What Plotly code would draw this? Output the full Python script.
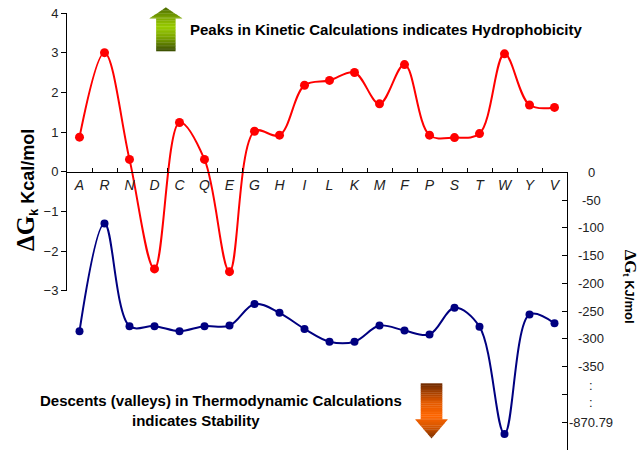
import plotly.graph_objects as go

# ---------------- data ----------------
categories = ["A", "R", "N", "D", "C", "Q", "E", "G", "H", "I",
              "L", "K", "M", "F", "P", "S", "T", "W", "Y", "V"]
# Kinetic calculations, Delta G_k (Kcal/mol), left axis
kinetic_values = [0.87, 3.00, 0.31, -2.45, 1.24, 0.31, -2.52, 1.02, 0.92, 2.18,
                  2.30, 2.50, 1.71, 2.70, 0.92, 0.86, 0.96, 2.97, 1.68, 1.62]
# Thermodynamic calculations, Delta G_t (KJ/mol), right (broken) axis.
# W is -870.79, drawn below the axis break (read at its broken-axis position).
thermo_values = [-286, -92, -277, -277, -286, -277, -276, -237, -253, -282,
                 -305, -305, -276, -285, -292, -244, -278, -471, -256, -272]

left_ticks = [-3, -2, -1, 0, 1, 2, 3, 4]
right_tickvals = [0, -50, -100, -150, -200, -250, -300, -350, -400, -450]
right_ticktext = ["0", "-50", "-100", "-150", "-200", "-250", "-300", "-350", ":<br>:", "-870.79"]

# ---------------- geometry helpers ----------------
W, H = 644, 450
L, T = 67, 13
R_EDGE = 566.7
PW = R_EDGE - L
PH = H - T


def px(x):
    return (x - L) / PW


def py(y):
    return 1 - (y - T) / PH


def hex2rgb(h):
    h = h.lstrip("#")
    return tuple(int(h[i:i + 2], 16) for i in (0, 2, 4))


def interp(stops, t):
    for (t0, c0), (t1, c1) in zip(stops, stops[1:]):
        if t0 <= t <= t1:
            a = 0 if t1 == t0 else (t - t0) / (t1 - t0)
            r0, g0, b0 = hex2rgb(c0)
            r1, g1, b1 = hex2rgb(c1)
            return "rgb(%d,%d,%d)" % (r0 + (r1 - r0) * a, g0 + (g1 - g0) * a, b0 + (b1 - b0) * a)
    return stops[-1][1]


def arrow_shapes(cx, y_top, y_bot, y_split, head_hw, shaft_hw, pointing_up, stops, n=30):
    shapes = []
    ys = sorted(set([y_top + (y_bot - y_top) * i / n for i in range(n + 1)] + [y_split]))

    def hw(y, in_head):
        if not in_head:
            return shaft_hw
        if pointing_up:
            return head_hw * (y - y_top) / (y_split - y_top)
        return head_hw * (y_bot - y) / (y_bot - y_split)

    for ya, yb in zip(ys, ys[1:]):
        mid = (ya + yb) / 2
        in_head = (mid < y_split) if pointing_up else (mid > y_split)
        wa, wb = hw(ya, in_head), hw(yb, in_head)
        col = interp(stops, (mid - y_top) / (y_bot - y_top))
        path = "M %f %f L %f %f L %f %f L %f %f Z" % (
            px(cx - wa), py(ya), px(cx + wa), py(ya),
            px(cx + wb), py(yb + 0.3), px(cx - wb), py(yb + 0.3))
        shapes.append(dict(type="path", xref="paper", yref="paper", path=path,
                           fillcolor=col, line=dict(width=0), layer="above"))
    return shapes


# ---------------- figure ----------------
fig = go.Figure()
fig.add_trace(go.Scatter(
    x=categories, y=kinetic_values, mode="lines+markers", xaxis="x", yaxis="y",
    line=dict(color="#FF0000", width=2, shape="spline", smoothing=1),
    marker=dict(color="#FF0000", size=9), showlegend=False))
fig.add_trace(go.Scatter(
    x=categories, y=thermo_values, mode="lines+markers", xaxis="x", yaxis="y2",
    line=dict(color="#000080", width=2, shape="spline", smoothing=1),
    marker=dict(color="#000080", size=8), showlegend=False))

font_fam = "Arial, Liberation Sans, sans-serif"

fig.update_layout(
    width=W, height=H,
    margin=dict(l=L, r=W - R_EDGE, t=T, b=0, pad=0),
    paper_bgcolor="white", plot_bgcolor="rgba(0,0,0,0)",
    font=dict(family=font_fam, color="#222222"),
    xaxis=dict(type="category", categoryorder="array", categoryarray=categories,
               range=[-0.5, len(categories) - 0.5], domain=[0, 1],
               anchor="free", position=py(171.7),
               showline=True, linecolor="#000000", linewidth=1,
               ticks="inside", tickson="boundaries", ticklen=4, tickcolor="#000000",
               tickfont=dict(size=14, style="italic", color="#222222"),
               showgrid=False, zeroline=False, automargin=False),
    yaxis=dict(domain=[py(290.7), 1], range=[-3, 4], tickvals=left_ticks,
               showline=True, linecolor="#000000", linewidth=1,
               ticks="outside", ticklen=5, tickcolor="#000000",
               tickfont=dict(size=13, color="#222222"),
               showgrid=False, zeroline=False, anchor="x", automargin=False),
    yaxis2=dict(domain=[0, py(172.3)], range=[-500, 0], side="right", anchor="x",
                tickvals=right_tickvals, showticklabels=False,
                showline=True, linecolor="#000000", linewidth=1,
                ticks="inside", ticklen=5, tickcolor="#000000",
                showgrid=False, zeroline=False, automargin=False),
)

annotations = []
# right axis tick labels (centered)
for v, t in zip(right_tickvals, right_ticktext):
    annotations.append(dict(x=px(591), xref="paper", y=v, yref="y2", text=t,
                            showarrow=False, xanchor="center", yanchor="middle",
                            font=dict(size=13, color="#222222")))

# axis titles
annotations.append(dict(
    x=px(27), y=py(190), xref="paper", yref="paper", textangle=-90, showarrow=False,
    xanchor="center", yanchor="middle",
    text='<b><span style="font-family:Liberation Serif, Times New Roman, serif;font-size:25px">ΔG</span>'
         '<sub>k</sub> Kcal/mol</b>',
    font=dict(size=18, color="#000000")))
annotations.append(dict(
    x=px(630), y=py(287), xref="paper", yref="paper", textangle=90, showarrow=False,
    xanchor="center", yanchor="middle",
    text='<b><span style="font-family:Liberation Serif, Times New Roman, serif;font-size:17px">ΔG</span>'
         '<sub>t</sub> KJ/mol</b>',
    font=dict(size=13, color="#000000")))

# explanatory notes
annotations.append(dict(
    x=px(188), y=py(30), xref="paper", yref="paper", showarrow=False,
    xanchor="left", yanchor="middle",
    text="<b>Peaks in Kinetic Calculations indicates Hydrophobicity</b>",
    font=dict(size=15, color="#000000")))
annotations.append(dict(
    x=px(220.5), y=py(400), xref="paper", yref="paper", showarrow=False,
    xanchor="center", yanchor="middle",
    text="<b>Descents (valleys) in Thermodynamic Calculations</b>",
    font=dict(size=15, color="#000000")))
annotations.append(dict(
    x=px(196), y=py(420), xref="paper", yref="paper", showarrow=False,
    xanchor="center", yanchor="middle",
    text="<b>indicates Stability</b>",
    font=dict(size=15, color="#000000")))

fig.update_layout(annotations=annotations)

shapes = []
shapes += arrow_shapes(cx=165.8, y_top=7.3, y_bot=51, y_split=18.3, head_hw=16.5, shaft_hw=9.7,
                       pointing_up=True,
                       stops=[(0, "#4d6b00"), (0.3, "#86b300"), (0.45, "#99cc00"),
                              (0.7, "#7aa300"), (1, "#3a4d00")])
shapes += arrow_shapes(cx=431.3, y_top=383.3, y_bot=438.3, y_split=419.3, head_hw=16.3, shaft_hw=10.8,
                       pointing_up=False,
                       stops=[(0, "#6e2a00"), (0.35, "#e35a00"), (0.6, "#ff6600"),
                              (0.8, "#d45500"), (1, "#7a3000")])
fig.update_layout(shapes=shapes)

fig.write_html("out.html",
               config={"displayModeBar": False},
               post_script="document.body.style.margin='0px';document.body.style.padding='0px';"
                           "document.body.style.overflow='hidden';")
